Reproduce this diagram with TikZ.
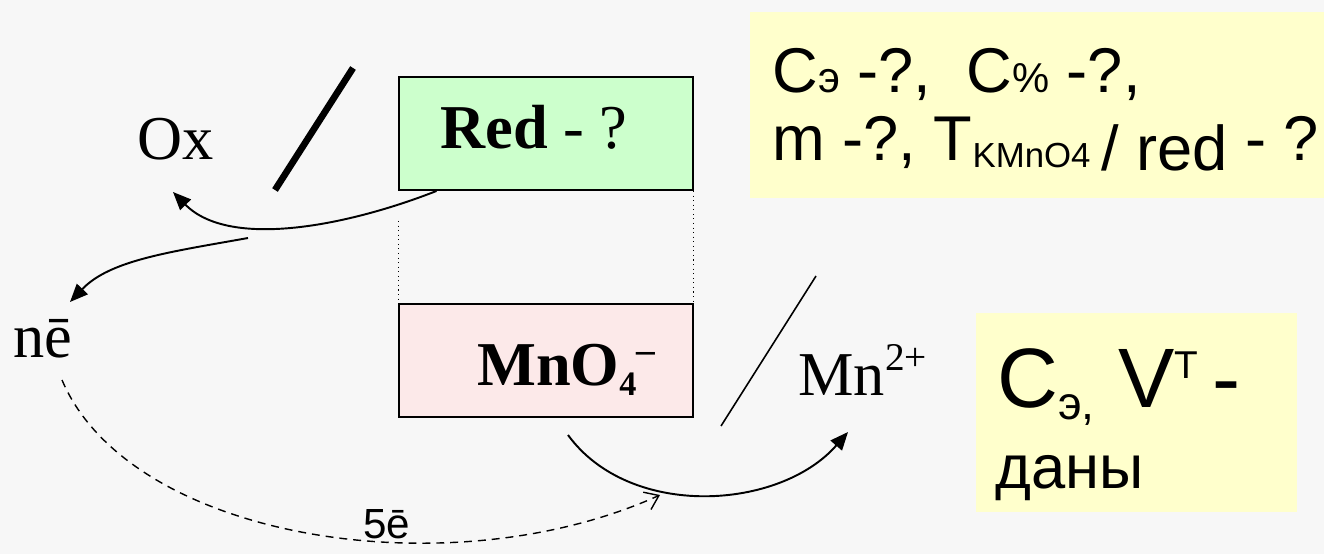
\documentclass[tikz,border=0pt]{standalone}
\usepackage{fontspec}
\setmainfont{Liberation Serif}
\newfontfamily\arialfont{Liberation Sans}
\usetikzlibrary{arrows.meta,calc}
\definecolor{slidebg}{HTML}{F7F7F7}
\definecolor{redgreen}{HTML}{CCFFCC}
\definecolor{oxpink}{HTML}{FCE9E9}
\definecolor{noteyellow}{HTML}{FFFFCC}
\newcommand{\idx}[3]{\raisebox{#1}{\scalebox{#2}{#3}}}

\begin{document}
\begin{tikzpicture}[x=0.02cm,y=-0.02cm,
    times/.style={inner sep=0pt,anchor=base west,font=\fontsize{35.5}{42}\selectfont},
    arial/.style={inner sep=0pt,anchor=base west,font=\arialfont\fontsize{36}{40}\selectfont},
    pair/.style={draw,line width=1.1pt,minimum width=5.88cm,minimum height=2.26cm,inner sep=0pt},
    note/.style={fill=noteyellow,inner sep=0pt},
    flow/.style={line width=1.1pt,-{Triangle[length=3.6mm,width=3mm]}},
    transfer/.style={line width=0.8pt,dash pattern=on 4.5pt off 3.4pt,
      -{Straight Barb[length=2.6mm,width=3.8mm]}}]
    \useasboundingbox (0,0) rectangle (1324,554);
    \fill[slidebg] (0,0) rectangle (1324,554);

    % the two half-reactions
    \node[pair,fill=redgreen] (red) at (546,133.5) {};
    \node[pair,fill=oxpink] (mno) at (546,360.5) {};
    \draw[dotted,line width=0.6pt] ($(red.south west)+(0,30)$) -- (mno.north west);
    \draw[dotted,line width=0.6pt] (red.south east) -- (mno.north east);
    \node[times] (redtxt) at (440,148) {\textbf{Red} - ?};
    \node[times] (mnotxt) at (477,385)
      {\textbf{MnO\idx{-5.7pt}{0.55}{4}\idx{13pt}{0.6}{–}}};

    \node[times] (ox) at (137,159) {Ox};
    \node[times] (mn) at (798,395) {Mn\idx{14pt}{0.63}{2+}};
    \node[times] (ne) at (13,357) {nē};
    \node[inner sep=0pt,anchor=base west,font=\arialfont\fontsize{24}{28}\selectfont]
      (five) at (363,538) {5ē};

    \draw[line width=3.8pt] (275,190) -- (353,68);
    \draw[line width=0.9pt] (721,426) -- (816,276);

    % arrows
    \coordinate (oxtip) at (173,192);
    \coordinate (split) at (248,238);
    \coordinate (netip) at (70,302);
    \coordinate (dstart) at (62,380);
    \coordinate (dtip) at (660,495);
    \coordinate (mstart) at (568,435);
    \coordinate (mtip) at (848,432);
    \draw[flow] ($(red.south west)!0.13!(red.south east)$) .. controls (350,225) and (230,250) .. (oxtip);
    \draw[flow] (split) .. controls (170,252) and (110,260) .. (netip);
    \draw[transfer] (dstart) .. controls (130,540) and (450,590) .. (dtip);
    \draw[flow] (mstart) .. controls (630,520) and (780,510) .. (mtip);

    % what is asked, what is given
    \node[note,minimum width=11.48cm,minimum height=3.72cm] (find) at (1037,105) {};
    \node[arial] (findA) at (772,92)
      {C\idx{0pt}{0.68}{э} -?,\ \ C\idx{0pt}{0.66}{\%} -?,};
    \node[arial] (findB) at (772,160)
      {m -?, T\idx{-4pt}{0.55}{KMnO4}\,\raisebox{-6pt}{/ red} - ?};

    \node[note,minimum width=6.42cm,minimum height=3.98cm] (given) at (1136.5,412.5) {};
    \node[inner sep=0pt,anchor=base west,font=\arialfont\fontsize{48}{50}\selectfont]
      (givenA) at (997,407) {C\idx{-7pt}{0.55}{э,} V\idx{16.5pt}{0.46}{T}\,-};
    \node[arial,font=\arialfont\fontsize{35}{40}\selectfont] (givenB) at (995,488) {даны};
  \end{tikzpicture}
\end{document}
